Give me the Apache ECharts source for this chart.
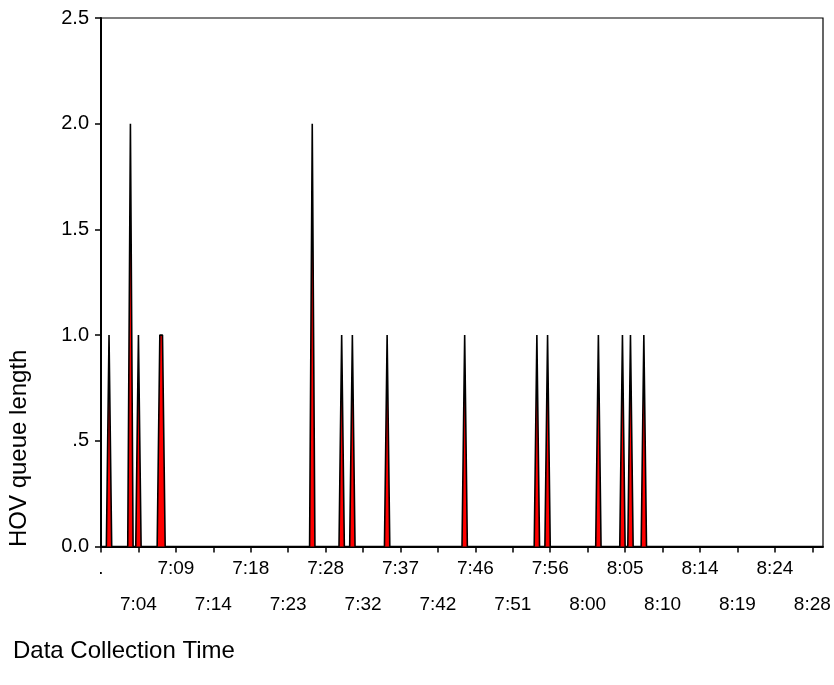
<!DOCTYPE html>
<html>
<head>
<meta charset="utf-8">
<script src="https://cdn.jsdelivr.net/npm/echarts@6/dist/echarts.min.js"></script>
<style>
html,body{margin:0;padding:0;background:#fff;}
#chart{width:834px;height:685px;}
</style>
</head>
<body>
<div id="chart"></div>
<script>
// Observation count (20-second intervals) and tick labels every 14 observations
const obsCount = 271;
const labelStep = 14;
const xTickLabels = ['.', '7:04', '7:09', '7:14', '7:18', '7:23', '7:28', '7:32', '7:37', '7:42',
  '7:46', '7:51', '7:56', '8:00', '8:05', '8:10', '8:14', '8:19', '8:24', '8:28'];
// Non-zero queue observations (index into observations, queue length)
const spikeIndex = [3, 11, 14, 22, 23, 79, 90, 94, 107, 136, 163, 167, 186, 195, 198, 203];
const spikeValue = [1, 2, 1, 1, 1, 2, 1, 1, 1, 1, 1, 1, 1, 1, 1, 1];
const yTickLabels = {'0': '0.0', '0.5': '.5', '1': '1.0', '1.5': '1.5', '2': '2.0', '2.5': '2.5'};

const categories = [];
for (let i = 0; i < obsCount; i++) categories.push('obs' + i);
const queue = new Array(obsCount).fill(0);
spikeIndex.forEach((idx, k) => { queue[idx] = spikeValue[k]; });

const FONT = 'Liberation Sans, Arial, sans-serif';
const chart = echarts.init(document.getElementById('chart'), null, {renderer: 'canvas'});
chart.setOption({
  animation: false,
  backgroundColor: '#ffffff',
  grid: {left: 101, right: 11, top: 18, bottom: 138.5, show: true, borderColor: '#000', borderWidth: 1.2, backgroundColor: 'transparent'},
  xAxis: {
    type: 'category',
    data: categories,
    boundaryGap: false,
    axisLine: {lineStyle: {color: '#000', width: 2}},
    axisTick: {show: true, interval: labelStep - 1, length: 6, lineStyle: {color: '#000', width: 1.5}},
    axisLabel: {
      interval: labelStep - 1,
      margin: 4,
      color: '#000',
      fontFamily: FONT,
      fontSize: 19,
      lineHeight: 36,
      formatter: function (v, idx) {
        if (idx % labelStep !== 0) return '';
        const k = idx / labelStep;
        const t = xTickLabels[k];
        if (t === undefined) return '';
        return k % 2 === 1 ? '\n' + t : t;
      }
    },
    splitLine: {show: false}
  },
  yAxis: {
    type: 'value',
    min: 0, max: 2.5, interval: 0.5,
    axisLine: {show: true, lineStyle: {color: '#000', width: 2}},
    axisTick: {show: true, length: 6, lineStyle: {color: '#000', width: 1.5}},
    axisLabel: {
      color: '#000', fontFamily: FONT, fontSize: 20, margin: 12,
      formatter: function (v) { return yTickLabels[String(v)] || String(v); }
    },
    splitLine: {show: false}
  },
  series: [{
    type: 'line',
    data: queue,
    symbol: 'none',
    lineStyle: {color: '#000', width: 1.6},
    areaStyle: {color: '#ff0000', opacity: 1}
  }],
  graphic: [
    {type: 'text', left: 13, top: 639, style: {text: 'Data Collection Time', fill: '#000', font: '24px ' + FONT}},
    {type: 'text', rotation: Math.PI / 2, x: 7, y: 547, style: {text: 'HOV queue length', fill: '#000', font: '24px ' + FONT, textAlign: 'left', textVerticalAlign: 'top'}}
  ]
});
</script>
</body>
</html>
